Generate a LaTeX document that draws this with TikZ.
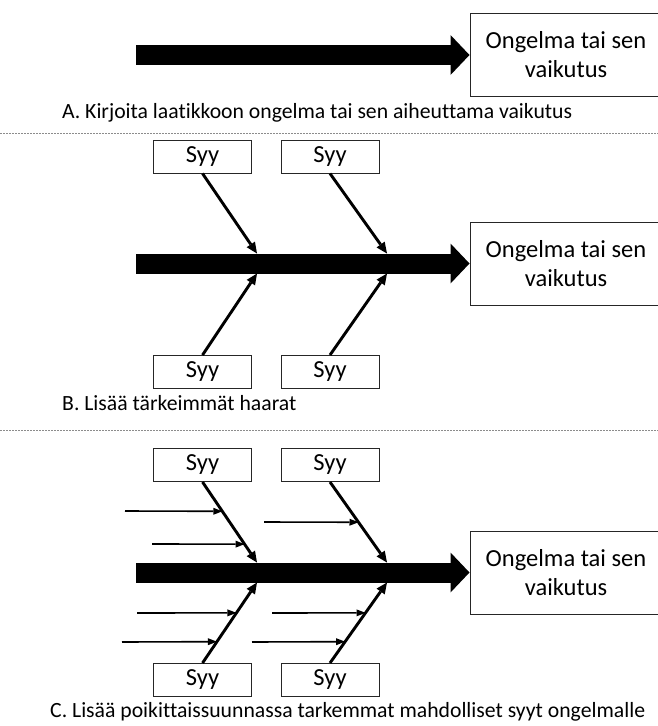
\documentclass[tikz,border=0pt]{standalone}
\usepackage{fontspec}
\setmainfont{Carlito}[Ligatures=NoCommon]
\usetikzlibrary{arrows.meta,calc}

\begin{document}
\begin{tikzpicture}[x=1pt,y=-1pt,
  effect/.style={draw=black!85, line width=1pt, minimum width=192pt, minimum height=83pt,
    align=center, inner sep=0pt, font=\fontsize{24.5}{29}\selectfont},
  cause/.style={draw=black!85, line width=1pt, minimum width=98pt, minimum height=33pt,
    inner sep=0pt, font=\fontsize{24.5}{29}\selectfont},
  spine/.style={line width=20pt, -{Triangle[length=19pt,width=40pt,line width=0pt]}},
  bone/.style={line width=2.9pt, -{Triangle[length=11pt,width=10pt,line width=0pt]}},
  twig/.style={line width=1.6pt, -{Triangle[length=9pt,width=7pt,line width=0pt]}},
  caption/.style={anchor=base west, inner sep=0pt, font=\fontsize{21.7}{26}\selectfont},
  divider/.style={draw=black!45, line width=1pt, dash pattern=on 1.5pt off 1.5pt}
]
\useasboundingbox (0,0) rectangle (658,726);

% ---------- A: problem box and spine ----------
\node[effect] (ea) at (566,55) {Ongelma tai sen\\vaikutus};
\coordinate (sa) at (136,55);
\draw[spine] (sa) -- (ea.west);
\node[caption] (ca) at (62,118) {A. Kirjoita laatikkoon ongelma tai sen aiheuttama vaikutus};

\coordinate (d1l) at (0,133);
\coordinate (d1r) at (658,133);
\draw[divider] (d1l) -- (d1r);

% ---------- B: main branches ----------
\node[effect] (eb) at (566,263.5) {Ongelma tai sen\\vaikutus};
\coordinate (sb) at (136,263.5);
\draw[spine] (sb) -- (eb.west);

\node[cause] (bt1) at (202.5,156.5) {Syy};
\node[cause] (bt2) at (330,156.5) {Syy};
\node[cause] (bb1) at (202.5,372) {Syy};
\node[cause] (bb2) at (330,372) {Syy};

\coordinate (bj1) at (257,253.5);
\coordinate (bj2) at (387,253.5);
\coordinate (bk1) at (257,273.5);
\coordinate (bk2) at (387,273.5);

\draw[bone] (bt1.south) -- (bj1);
\draw[bone] (bt2.south) -- (bj2);
\draw[bone] (bb1.north) -- (bk1);
\draw[bone] (bb2.north) -- (bk2);

\node[caption] (cb) at (62,410) {B. Lisää tärkeimmät haarat};

\coordinate (d2l) at (0,430);
\coordinate (d2r) at (658,430);
\draw[divider] (d2l) -- (d2r);

% ---------- C: branches with sub-causes ----------
\node[effect] (ec) at (566,572.5) {Ongelma tai sen\\vaikutus};
\coordinate (sc) at (136,572.5);
\draw[spine] (sc) -- (ec.west);

\node[cause] (ct1) at (202.5,465) {Syy};
\node[cause] (ct2) at (330,465) {Syy};
\node[cause] (cb1) at (202.5,680) {Syy};
\node[cause] (cb2) at (330,680) {Syy};

\coordinate (cj1) at (257,562.5);
\coordinate (cj2) at (387,562.5);
\coordinate (ck1) at (257,582.5);
\coordinate (ck2) at (387,582.5);

\draw[bone] (ct1.south) -- (cj1);
\draw[bone] (ct2.south) -- (cj2);
\draw[bone] (cb1.north) -- (ck1);
\draw[bone] (cb2.north) -- (ck2);

% sub-cause arrows meeting the branches
\coordinate (h1s) at (125,511);
\coordinate (h2s) at (152,544);
\coordinate (h3s) at (264,522);
\coordinate (h4s) at (137,613);
\coordinate (h5s) at (122,642);
\coordinate (h6s) at (272,613);
\coordinate (h7s) at (252,642);

\coordinate (h1e) at ($(ct1.south)!0.364!(cj1)$);
\coordinate (h2e) at ($(ct1.south)!0.772!(cj1)$);
\coordinate (h3e) at ($(ct2.south)!0.5!(cj2)$);
\coordinate (h4e) at ($(cb1.north)!0.623!(ck1)$);
\coordinate (h5e) at ($(cb1.north)!0.265!(ck1)$);
\coordinate (h6e) at ($(cb2.north)!0.623!(ck2)$);
\coordinate (h7e) at ($(cb2.north)!0.265!(ck2)$);

\draw[twig] (h1s) -- (h1e);
\draw[twig] (h2s) -- (h2e);
\draw[twig] (h3s) -- (h3e);
\draw[twig] (h4s) -- (h4e);
\draw[twig] (h5s) -- (h5e);
\draw[twig] (h6s) -- (h6e);
\draw[twig] (h7s) -- (h7e);

\node[caption] (cc) at (50,717) {C. Lisää poikittaissuunnassa tarkemmat mahdolliset syyt ongelmalle};
\end{tikzpicture}
\end{document}
